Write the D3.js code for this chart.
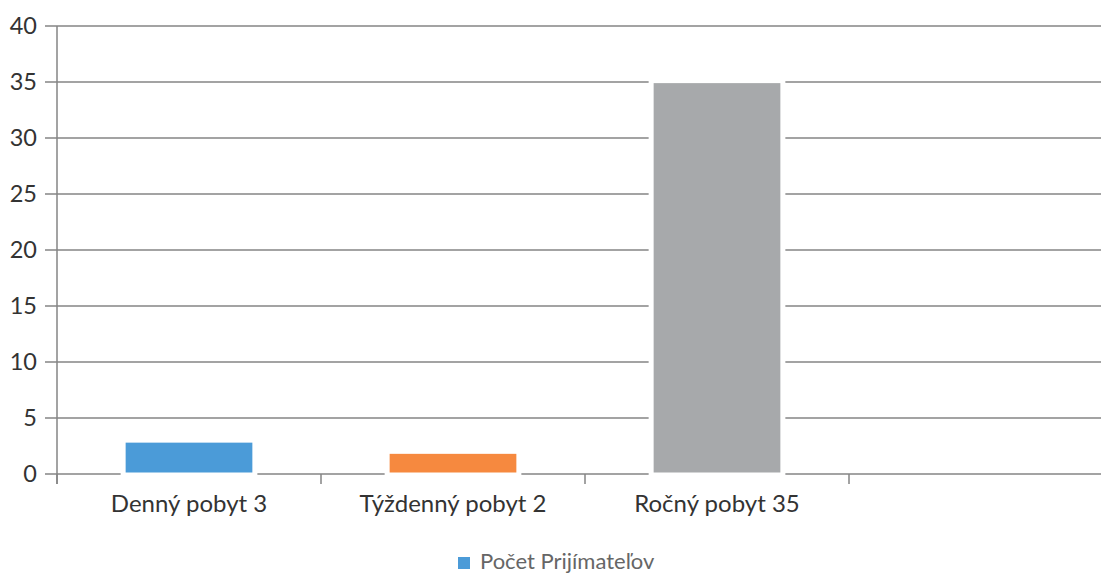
<!DOCTYPE html>
<html>
  <head>
    <meta charset="utf-8" />
    <title>Počet Prijímateľov</title>
    <script src="https://cdnjs.cloudflare.com/ajax/libs/d3/7.8.5/d3.min.js"></script>
    <style>
      body { margin: 0; background: #fff; }
      text { font-family: Lato, "Open Sans", sans-serif; }
    </style>
  </head>
  <body>
    <div id="chart"></div>
    <script>
      // data (4th slot is empty in the original)
      const categories = ["Denný pobyt 3", "Týždenný pobyt 2", "Ročný pobyt 35", ""];
      const values = [2.8, 1.8, 34.9, null];
      const barColors = ["#4b9bd8", "#f6893f", "#a7a9ab", "#ffd34d"];
      const yTicks = [0, 5, 10, 15, 20, 25, 30, 35, 40];
      const seriesName = "Počet Prijímateľov";

      const width = 1101, height = 575;

      const svg = d3
        .select("#chart")
        .append("svg")
        .attr("width", width)
        .attr("height", height);

      const x = d3
        .scaleBand()
        .domain(categories)
        .range([57, 1113])
        .paddingInner(0.52)
        .paddingOuter(0.26);

      const y = d3.scaleLinear().domain([0, 40]).range([474, 26]);

      // gridlines
      svg
        .selectAll(".grid")
        .data(yTicks)
        .join("line")
        .attr("x1", 45)
        .attr("x2", width)
        .attr("y1", (d) => y(d))
        .attr("y2", (d) => y(d))
        .attr("stroke", "#858585")
        .attr("stroke-width", 1.5);

      // y axis line
      svg
        .append("line")
        .attr("x1", 57)
        .attr("x2", 57)
        .attr("y1", y(40))
        .attr("y2", y(0) + 10)
        .attr("stroke", "#858585")
        .attr("stroke-width", 1.5);

      // category boundary ticks
      const step = x.step();
      svg
        .selectAll(".xtick")
        .data(d3.range(categories.length + 1))
        .join("line")
        .attr("x1", (i) => 57 + i * step)
        .attr("x2", (i) => 57 + i * step)
        .attr("y1", y(0))
        .attr("y2", y(0) + 10)
        .attr("stroke", "#858585")
        .attr("stroke-width", 1.5);

      // bars, with a white halo like the original
      const bars = categories
        .map((c, i) => ({ c, v: values[i], color: barColors[i] }))
        .filter((d) => d.v != null);

      svg
        .selectAll(".bar")
        .data(bars)
        .join("rect")
        .attr("x", (d) => x(d.c))
        .attr("width", x.bandwidth())
        .attr("y", (d) => y(d.v))
        .attr("height", (d) => y(0) - y(d.v) - 1.5)
        .attr("fill", (d) => d.color)
        .attr("stroke", "#fff")
        .attr("stroke-width", 10)
        .attr("paint-order", "stroke");

      // y labels
      const yAxis = d3.axisLeft(y).tickValues(yTicks).tickSize(0).tickPadding(20);
      const gy = svg.append("g").attr("transform", "translate(57,0)").call(yAxis);
      gy.select(".domain").remove();
      gy.selectAll("text")
        .attr("font-size", 23.5)
        .attr("fill", "#333")
        .attr("font-family", "Lato, sans-serif");

      // category labels
      const xAxis = d3.axisBottom(x).tickSize(0).tickPadding(21);
      const gx = svg.append("g").attr("transform", `translate(0,${y(0)})`).call(xAxis);
      gx.select(".domain").remove();
      gx.selectAll("text")
        .attr("font-size", 24)
        .attr("fill", "#333")
        .attr("font-family", "Lato, sans-serif");

      // legend
      const legend = svg.append("g").attr("transform", "translate(458,557)");
      legend
        .append("rect")
        .attr("width", 12)
        .attr("height", 12)
        .attr("fill", barColors[0]);
      legend
        .append("text")
        .attr("x", 22)
        .attr("y", 12)
        .attr("font-size", 22)
        .attr("fill", "#666")
        .text(seriesName);
    </script>
  </body>
</html>
